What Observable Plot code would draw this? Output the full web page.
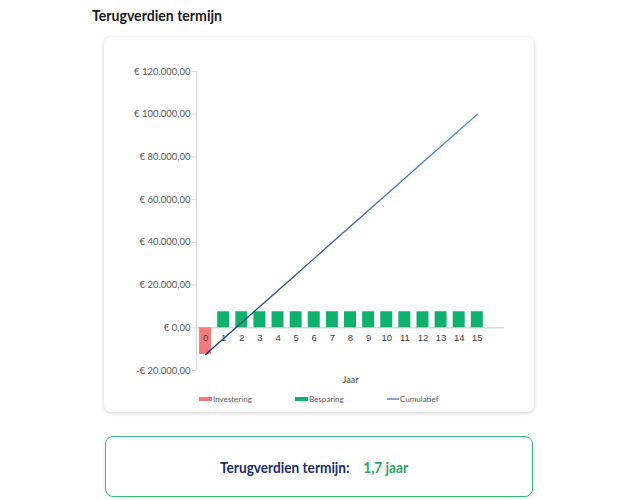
<!DOCTYPE html>
<html>
<head>
<meta charset="utf-8">
<script src="https://cdn.jsdelivr.net/npm/d3@7"></script>
<script src="https://cdn.jsdelivr.net/npm/@observablehq/plot@0.6"></script>
<style>
  html, body { margin: 0; padding: 0; background: #fff; }
  body { width: 640px; height: 500px; position: relative; overflow: hidden; font-family: Lato, sans-serif; }
  #title { position: absolute; left: 92px; top: 5px; font: 700 16px Lato, sans-serif; color: #1a1a1a; white-space: nowrap; transform-origin: left center; }
  #card { position: absolute; left: 104px; top: 37px; width: 430px; height: 375px; background: #fff; border-radius: 7px; box-shadow: 0 1px 4px rgba(0,0,0,0.2); }
  #chart { position: absolute; left: 0; top: 0; }
  #chart svg [aria-label^="y-axis"] line,
  #chart svg [aria-label^="y-axis"] path,
  #chart svg g[aria-label="y-axis tick"] { stroke: #d9d9d9; }
  .leg { position: absolute; top: 356px; font: 400 8px Lato, sans-serif; color: #595959; white-space: nowrap; display: flex; align-items: center; height: 12px; }
  .sw { display: inline-block; width: 13px; height: 4px; margin-right: 1px; }
  .ln { display: inline-block; width: 12px; height: 1.2px; margin-right: 1px; }
  #result { position: absolute; left: 105px; top: 436px; width: 428px; height: 61px; box-sizing: border-box; border: 1.5px solid #3cb67b; border-radius: 8px; box-shadow: 0 1px 3px rgba(0,0,0,0.12); }
  #rtext { position: absolute; left: 220px; top: 457px; white-space: nowrap; font: 700 16px Lato, sans-serif; transform-origin: left center; }
  #rlab { color: #1b2e6b; }
  #rval { color: #2aa868; margin-left: 16px; }
</style>
</head>
<body>
<div id="title">Terugverdien termijn</div>
<div id="card">
  <div id="chart"></div>
  <div id="legend"></div>
</div>
<div id="result"></div>
<div id="rtext"><span id="rlab">Terugverdien termijn:</span><span id="rval">1,7 jaar</span></div>
<script>
// ---- data ----
const years = [0, 1, 2, 3, 4, 5, 6, 7, 8, 9, 10, 11, 12, 13, 14, 15];
const investering = [-12500, 0, 0, 0, 0, 0, 0, 0, 0, 0, 0, 0, 0, 0, 0, 0];
const besparing = [0, 7500, 7500, 7500, 7500, 7500, 7500, 7500, 7500, 7500, 7500, 7500, 7500, 7500, 7500, 7500];
const cumulatief = [-12500, -5000, 2500, 10000, 17500, 25000, 32500, 40000, 47500, 55000, 62500, 70000, 77500, 85000, 92500, 100000];
const yTicks = [-20000, 0, 20000, 40000, 60000, 80000, 100000, 120000];
const seriesNames = ["Investering", "Besparing", "Cumulatief"];
const xLabel = "Jaar";

const colInv = "#f47b7b";
const colBes = "#0db06c";
const colCum = "#4a7fc4";

const rows = years.map((y, i) => ({ year: y, inv: investering[i], bes: besparing[i], cum: cumulatief[i] }));

const nl = d3.formatLocale({ decimal: ",", thousands: ".", grouping: [3], currency: ["€ ", ""] });
const f2 = nl.format(",.2f");
const fmtEuro = v => (v < 0 ? "-" : "") + "€ " + f2(Math.abs(v));

const hw = 0.33; // half bar width in year units
const xDomain = [years[0] - 0.5, years[years.length - 1] + 1.5];

const chart = Plot.plot({
  width: 430,
  height: 350,
  marginLeft: 92,
  marginRight: 30,
  marginTop: 34,
  marginBottom: 17,
  style: { fontFamily: "Lato, sans-serif", fontSize: "9.5px", color: "#595959", background: "transparent", overflow: "visible" },
  x: { domain: xDomain, axis: null },
  y: { domain: [yTicks[0], yTicks[yTicks.length - 1]], ticks: yTicks, tickFormat: fmtEuro, tickSize: 4, tickPadding: 2, label: null },
  marks: [
    Plot.ruleX([xDomain[0]], { stroke: "#d9d9d9", strokeWidth: 1.2 }),
    Plot.ruleY([0], { stroke: "#d9d9d9", strokeWidth: 1.5 }),
    Plot.rect(rows.filter(d => d.inv !== 0), { x1: d => d.year - hw, x2: d => d.year + hw, y1: () => 0, y2: "inv", fill: colInv }),
    Plot.rect(rows.filter(d => d.bes !== 0), { x1: d => d.year - hw, x2: d => d.year + hw, y1: () => 0, y2: "bes", fill: colBes }),
    Plot.text(years, { x: d => d, y: () => 0, dy: 10, text: d => String(d), fontSize: 9.5, fill: "#404040", fontFamily: "Liberation Sans, Arial, sans-serif" }),
    Plot.line(rows, { x: "year", y: "cum", stroke: "url(#cumGrad)", strokeWidth: 1.3 }),
    Plot.text([xLabel], { frameAnchor: "bottom", lineAnchor: "middle", dy: 10, text: d => d, fontSize: 9, fill: "#404040" })
  ]
});

const sel = d3.select(chart);
const grad = sel.insert("defs", ":first-child").append("linearGradient")
  .attr("id", "cumGrad").attr("x1", "0").attr("y1", "1").attr("x2", "1").attr("y2", "0");
grad.append("stop").attr("offset", "0").attr("stop-color", "#1b3770");
grad.append("stop").attr("offset", "1").attr("stop-color", "#5792d8");

document.getElementById("chart").appendChild(chart);

// legend
const legend = document.getElementById("legend");
const legPos = [95, 191, 283];
const legStyle = [["sw", colInv], ["sw", colBes], ["ln", "#7aa6dc"]];
seriesNames.forEach((name, i) => {
  const item = document.createElement("div");
  item.className = "leg";
  item.style.left = legPos[i] + "px";
  const sw = document.createElement("span");
  sw.className = legStyle[i][0];
  sw.style.background = legStyle[i][1];
  item.appendChild(sw);
  item.appendChild(document.createTextNode(name));
  legend.appendChild(item);
});

// fit condensed-looking headings to reference widths
function fit(id, w) {
  const el = document.getElementById(id);
  const cur = el.getBoundingClientRect().width;
  el.style.transform = `scaleX(${w / cur})`;
}
fit("title", 130);
fit("rtext", 188);
</script>
</body>
</html>
